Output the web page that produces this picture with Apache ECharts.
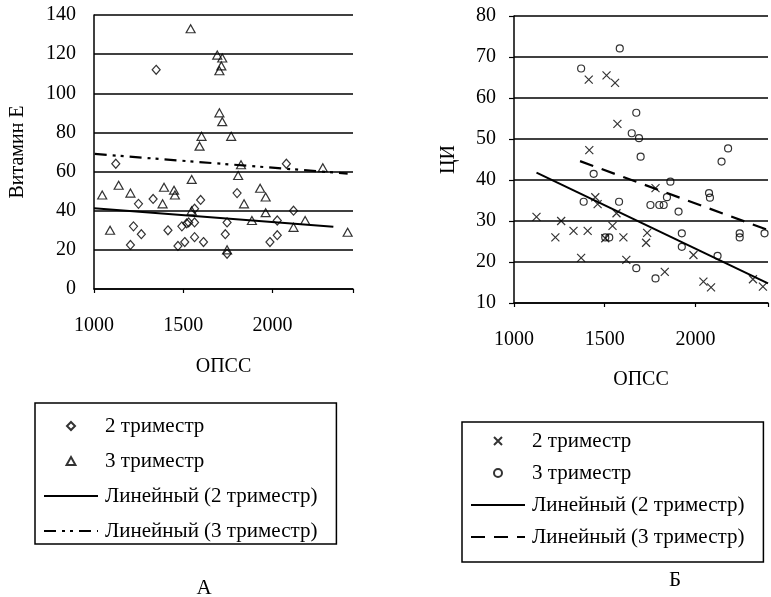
<!DOCTYPE html>
<html>
<head>
<meta charset="utf-8">
<script src="https://cdn.jsdelivr.net/npm/echarts@6/dist/echarts.min.js"></script>
<style>
  html, body { margin: 0; padding: 0; background: #fff; }
  #wrap { position: relative; width: 771px; height: 597px; }
  #chartA { position: absolute; left: 0; top: 0; width: 390px; height: 597px; }
  #chartB { position: absolute; left: 390px; top: 0; width: 381px; height: 597px; }
</style>
</head>
<body>
<div id="wrap">
  <div id="chartA"></div>
  <div id="chartB"></div>
</div>
<script>
// А: Витамин Е vs ОПСС
const vitE2 = [
  [1122, 64], [1204, 22.5], [1221, 32], [1249, 43.5], [1265, 28], [1331, 46],
  [1348, 112], [1414, 30], [1470, 22], [1492, 32], [1508, 24], [1519, 33.5],
  [1530, 34], [1563, 34], [1563, 26.5], [1563, 41], [1597, 45.5], [1613, 24],
  [1735, 28], [1745, 34], [1745, 18], [1801, 49], [1985, 24], [2026, 27.5],
  [2026, 35], [2077, 64], [2117, 40]
]
const vitE3 = [
  [1046, 48], [1090, 30], [1138, 53], [1204, 49], [1384, 43.5], [1392, 52],
  [1448, 50.5], [1453, 48], [1541, 133], [1547, 56], [1547, 40], [1591, 73],
  [1602, 78], [1690, 119.5], [1702, 111.5], [1702, 90], [1713, 114], [1718, 118],
  [1718, 85.5], [1745, 20], [1768, 78], [1807, 58], [1823, 63.5], [1840, 43.5],
  [1884, 35], [1930, 51.5], [1961, 47], [1961, 39], [2117, 31.5], [2182, 35],
  [2281, 62], [2420, 29]
]
const vitETrend2 = [[1000, 41.2], [2340, 31.8]]
const vitETrend3 = [[1004, 69], [2420, 59]]

// Б: ЦИ vs ОПСС
const ci2 = [
  [1124, 31], [1228, 26], [1260, 30], [1328, 27.6], [1406, 27.6], [1370, 21],
  [1412, 64.5], [1510, 65.5], [1557, 63.7], [1570, 53.7], [1415, 47.3],
  [1448, 35.8], [1461, 34.1], [1503, 25.8], [1543, 28.8], [1565, 31.9],
  [1603, 26], [1619, 20.5], [1734, 27.1], [1728, 24.7], [1780, 38],
  [1831, 17.6], [1989, 21.7], [2044, 15.2], [2086, 13.8], [2317, 15.8], [2372, 14]
]
const ci3 = [
  [1583, 72.1], [1370, 67.2], [1674, 56.4], [1649, 51.4], [1689, 50.2],
  [1698, 45.7], [1439, 41.5], [1384, 34.7], [1579, 34.7], [1862, 39.6],
  [1752, 33.9], [1801, 33.9], [1825, 33.9], [1843, 35.8], [1907, 32.3],
  [2075, 36.8], [2080, 35.7], [2144, 44.5], [2180, 47.7], [1925, 27],
  [1925, 23.7], [1503, 26], [1525, 26], [1674, 18.5], [1780, 16],
  [2122, 21.5], [2244, 27], [2244, 26], [2381, 27]
]
const ciTrend2 = [[1124, 41.8], [2400, 14.8]]
const ciTrend3 = [[1364, 44.6], [2400, 27.8]]

const xTicks = [1000, 1500, 2000]
const legendNames = ['2 триместр', '3 триместр', 'Линейный (2 триместр)', 'Линейный (3 триместр)']

const FONT = 'Liberation Serif'
const DIAMOND = 'path://M5,0L10,5L5,10L0,5Z'
const TRIANGLE = 'path://M5,0L10,9L0,9Z'
const CROSS = 'path://M0,0L10,10M10,0L0,10'
const RING = 'path://M10,5A5,5,0,1,1,0,5A5,5,0,1,1,10,5Z'

function buildOption(cfg) {
  const noDot = { color: 'transparent', borderColor: 'transparent', borderWidth: 0 }
  return {
    animation: false,
    textStyle: { fontFamily: FONT, color: '#000' },
    grid: cfg.grid,
    xAxis: {
      type: 'value',
      min: 1000,
      max: cfg.xMax,
      interval: 500,
      name: 'ОПСС',
      nameLocation: 'middle',
      nameGap: cfg.xNameGap,
      nameTextStyle: { fontFamily: FONT, fontSize: 20, color: '#000' },
      axisLine: { show: true, lineStyle: { color: '#000', width: 1.5 } },
      axisTick: { show: true, inside: false, length: 4, lineStyle: { color: '#000', width: 1.2 } },
      axisLabel: {
        margin: 27,
        fontFamily: FONT,
        fontSize: 20,
        color: '#000',
        formatter: v => (xTicks.indexOf(v) >= 0 ? String(v) : '')
      },
      splitLine: { show: false }
    },
    yAxis: {
      type: 'value',
      min: cfg.yMin,
      max: cfg.yMax,
      interval: cfg.yInterval,
      name: cfg.yName,
      nameLocation: 'middle',
      nameRotate: 90,
      nameGap: cfg.yNameGap,
      nameTextStyle: { fontFamily: FONT, fontSize: 20, color: '#000' },
      axisLine: { show: true, lineStyle: { color: '#000', width: 1.5 } },
      axisTick: { show: cfg.yTicks, length: 5, lineStyle: { color: '#000', width: 1.2 } },
      axisLabel: { margin: 18, fontFamily: FONT, fontSize: 20, color: '#000' },
      splitLine: { show: true, lineStyle: { color: '#000', width: 1.5 } }
    },
    legend: {
      orient: 'vertical',
      left: cfg.legend.left,
      top: cfg.legend.top,
      padding: cfg.legend.padding,
      itemGap: cfg.legend.gap,
      itemWidth: 54,
      itemHeight: 8,
      symbolKeepAspect: true,
      borderColor: '#000',
      borderWidth: 1.5,
      selectedMode: false,
      data: [
        { name: legendNames[0], icon: cfg.icon2 },
        { name: legendNames[1], icon: cfg.icon3 },
        { name: legendNames[2], itemStyle: noDot },
        { name: legendNames[3], itemStyle: noDot }
      ],
      textStyle: { fontFamily: FONT, fontSize: 21, color: '#000', lineHeight: 22, padding: [0, 0, 0, 2] }
    },
    graphic: [{
      type: 'text',
      x: cfg.label.x,
      y: cfg.label.y,
      style: { text: cfg.label.text, font: '21px "Liberation Serif"', fill: '#000', align: 'center', verticalAlign: 'middle' }
    }],
    series: [
      {
        name: legendNames[0],
        type: 'scatter',
        data: cfg.s2,
        symbol: cfg.sym2,
        symbolSize: cfg.size2,
        itemStyle: { color: 'transparent', borderColor: '#000', borderWidth: 1.2 }
      },
      {
        name: legendNames[1],
        type: 'scatter',
        data: cfg.s3,
        symbol: cfg.sym3,
        symbolSize: cfg.size3,
        itemStyle: { color: 'transparent', borderColor: '#000', borderWidth: 1.2 }
      },
      {
        name: legendNames[2],
        type: 'line',
        data: cfg.t2,
        symbol: 'none',
        lineStyle: { color: '#000', width: 2 },
        itemStyle: { color: '#000' }
      },
      {
        name: legendNames[3],
        type: 'line',
        data: cfg.t3,
        symbol: 'none',
        lineStyle: { color: '#000', width: 2.2, type: cfg.dash },
        itemStyle: { color: '#000' }
      }
    ]
  }
}

const chartA = echarts.init(document.getElementById('chartA'))
chartA.setOption(buildOption({
  grid: { left: 91, top: 15, width: 262, height: 274 },
  xMax: 2450,
  xNameGap: 68,
  yMin: 0, yMax: 140, yInterval: 20,
  yName: 'Витамин Е',
  yNameGap: 66,
  yTicks: false,
  legend: { left: 35, top: 403, padding: [12, 19, 2, 8], gap: 13 },
  label: { text: 'А', x: 204, y: 588 },
  s2: vitE2, sym2: 'diamond', size2: [8, 9], icon2: DIAMOND,
  s3: vitE3, sym3: 'triangle', size3: [9, 8], icon3: TRIANGLE,
  t2: vitETrend2, t3: vitETrend3,
  dash: [12, 6, 3, 5, 3, 6]
}))

const chartB = echarts.init(document.getElementById('chartB'))
chartB.setOption(buildOption({
  grid: { left: 124, top: 16, width: 257, height: 287 },
  xMax: 2400,
  xNameGap: 67,
  yMin: 10, yMax: 80, yInterval: 10,
  yName: 'ЦИ',
  yNameGap: 55,
  yTicks: true,
  legend: { left: 72, top: 422, padding: [8, 19, 14, 8], gap: 10 },
  label: { text: 'Б', x: 285, y: 580 },
  s2: ci2, sym2: CROSS, size2: 8, icon2: CROSS,
  s3: ci3, sym3: 'circle', size3: 7, icon3: RING,
  t2: ciTrend2, t3: ciTrend3,
  dash: [14, 9]
}))
</script>
</body>
</html>
